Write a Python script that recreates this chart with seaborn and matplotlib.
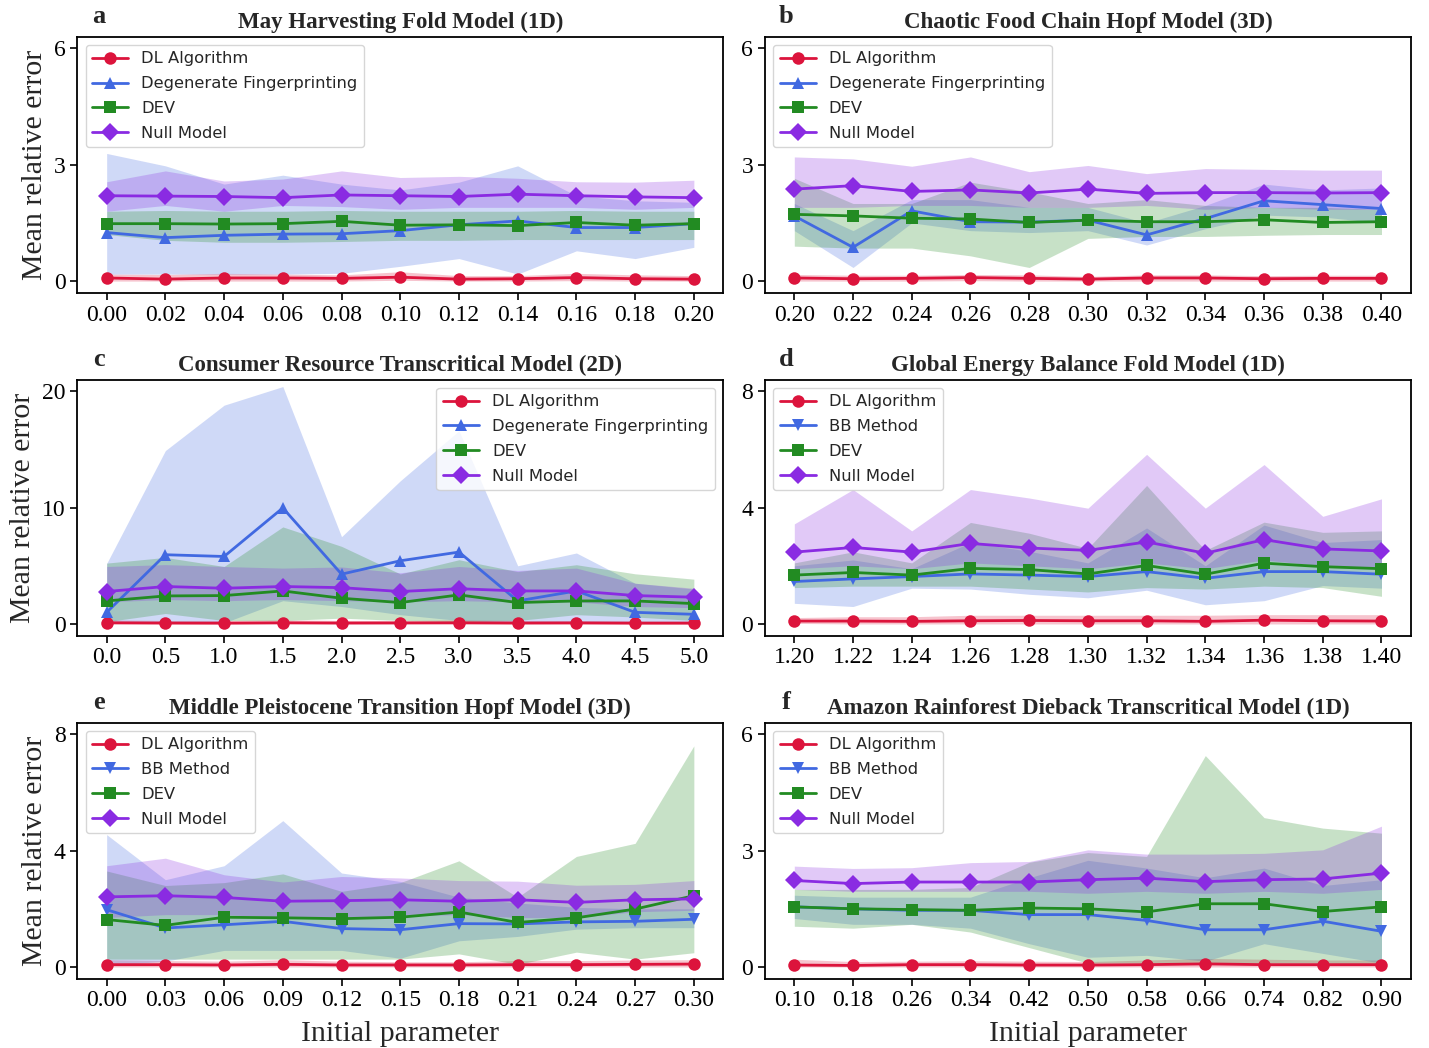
import numpy as np
import pandas as pd
import matplotlib
matplotlib.use("Agg")
import matplotlib.pyplot as plt
import seaborn as sns

# ---- data ----
a_x = [0.00, 0.02, 0.04, 0.06, 0.08, 0.10, 0.12, 0.14, 0.16, 0.18, 0.20]
a_dl = [0.08, 0.05, 0.08, 0.08, 0.07, 0.10, 0.05, 0.06, 0.09, 0.06, 0.05]
a_dl_lo = [0.0, 0.0, 0.0, 0.0, 0.0, 0.02, 0.0, 0.0, 0.01, 0.0, 0.0]
a_dl_hi = [0.18, 0.17, 0.20, 0.18, 0.16, 0.24, 0.14, 0.14, 0.20, 0.16, 0.14]
a_df = [1.25, 1.12, 1.18, 1.21, 1.22, 1.30, 1.45, 1.55, 1.38, 1.38, 1.48]
a_df_lo = [0.18, 0.18, 0.18, 0.18, 0.20, 0.38, 0.58, 0.18, 0.78, 0.58, 0.87]
a_df_hi = [3.29, 2.97, 2.50, 2.73, 2.50, 2.35, 2.55, 2.97, 2.20, 2.07, 2.03]
a_dev = [1.48, 1.48, 1.47, 1.48, 1.54, 1.44, 1.45, 1.43, 1.51, 1.44, 1.48]
a_dev_lo = [1.20, 1.05, 1.00, 1.00, 1.02, 1.05, 1.05, 1.07, 1.07, 1.07, 1.07]
a_dev_hi = [1.80, 1.82, 1.80, 1.80, 1.82, 1.80, 1.80, 1.80, 1.82, 1.80, 1.80]
a_null = [2.20, 2.19, 2.18, 2.15, 2.22, 2.20, 2.18, 2.24, 2.20, 2.17, 2.15]
a_null_lo = [1.80, 1.95, 1.80, 1.95, 1.92, 1.85, 1.90, 1.90, 1.90, 1.85, 1.90]
a_null_hi = [2.56, 2.84, 2.58, 2.63, 2.84, 2.67, 2.70, 2.65, 2.56, 2.55, 2.60]

b_x = [0.20, 0.22, 0.24, 0.26, 0.28, 0.30, 0.32, 0.34, 0.36, 0.38, 0.40]
b_dl = [0.08, 0.06, 0.07, 0.09, 0.07, 0.05, 0.08, 0.08, 0.06, 0.07, 0.07]
b_dl_lo = [0.0, 0.0, 0.0, 0.01, 0.0, 0.0, 0.0, 0.0, 0.0, 0.0, 0.0]
b_dl_hi = [0.17, 0.15, 0.15, 0.17, 0.16, 0.12, 0.16, 0.16, 0.14, 0.15, 0.15]
b_df = [1.68, 0.87, 1.81, 1.53, 1.52, 1.57, 1.19, 1.61, 2.07, 1.97, 1.87]
b_df_lo = [1.30, 0.35, 1.50, 1.30, 1.25, 1.30, 0.93, 1.35, 1.70, 1.65, 1.50]
b_df_hi = [2.00, 1.30, 2.10, 2.10, 1.90, 1.90, 1.50, 1.95, 2.50, 2.35, 2.40]
b_dev = [1.72, 1.68, 1.62, 1.60, 1.51, 1.57, 1.53, 1.53, 1.58, 1.51, 1.53]
b_dev_lo = [0.90, 0.85, 0.85, 0.65, 0.35, 1.10, 1.15, 1.15, 1.18, 1.20, 1.20]
b_dev_hi = [2.65, 2.00, 2.00, 2.55, 2.30, 2.00, 2.10, 1.95, 1.90, 1.90, 1.85]
b_null = [2.37, 2.46, 2.31, 2.35, 2.27, 2.37, 2.26, 2.28, 2.28, 2.27, 2.28]
b_null_lo = [1.90, 1.90, 1.95, 1.95, 1.90, 1.90, 1.95, 1.85, 1.90, 1.85, 1.85]
b_null_hi = [3.20, 3.15, 2.96, 3.20, 2.82, 2.98, 2.77, 2.90, 2.88, 2.86, 2.86]

c_x = [0.0, 0.5, 1.0, 1.5, 2.0, 2.5, 3.0, 3.5, 4.0, 4.5, 5.0]
c_dl = [0.10, 0.08, 0.07, 0.10, 0.08, 0.09, 0.10, 0.08, 0.09, 0.07, 0.07]
c_dl_lo = [0.0, 0.0, 0.0, 0.0, 0.0, 0.0, 0.0, 0.0, 0.0, 0.0, 0.0]
c_dl_hi = [0.35, 0.30, 0.30, 0.35, 0.30, 0.30, 0.35, 0.30, 0.30, 0.28, 0.28]
c_df = [1.00, 5.95, 5.80, 9.97, 4.28, 5.43, 6.18, 1.98, 2.84, 1.00, 0.83]
c_df_lo = [0.10, 0.20, 0.10, 2.00, 1.50, 0.80, 0.30, 0.10, 0.20, 0.10, 0.10]
c_df_hi = [5.20, 14.9, 18.8, 20.4, 7.50, 12.3, 16.6, 5.00, 6.10, 3.50, 3.00]
c_dev = [1.98, 2.41, 2.44, 2.84, 2.21, 1.84, 2.50, 1.84, 1.98, 1.98, 1.75]
c_dev_lo = [0.20, 0.90, 0.30, 0.30, 0.50, 0.30, 0.20, 0.30, 0.80, 0.60, 0.30]
c_dev_hi = [5.23, 5.72, 4.94, 8.34, 6.67, 4.30, 5.52, 4.50, 5.09, 4.31, 3.85]
c_null = [2.79, 3.22, 3.07, 3.22, 3.12, 2.79, 3.03, 2.84, 2.84, 2.44, 2.30]
c_null_lo = [1.90, 2.10, 2.00, 2.10, 2.00, 1.90, 2.00, 1.90, 1.90, 1.50, 1.40]
c_null_hi = [4.94, 5.10, 4.94, 4.80, 4.90, 4.40, 4.94, 4.60, 4.80, 3.50, 3.07]

d_x = [1.20, 1.22, 1.24, 1.26, 1.28, 1.30, 1.32, 1.34, 1.36, 1.38, 1.40]
d_dl = [0.10, 0.10, 0.09, 0.11, 0.12, 0.11, 0.11, 0.09, 0.13, 0.11, 0.10]
d_dl_lo = [0.02, 0.0, 0.0, 0.0, 0.0, 0.0, 0.0, 0.0, 0.0, 0.0, 0.0]
d_dl_hi = [0.22, 0.25, 0.25, 0.30, 0.30, 0.30, 0.30, 0.30, 0.32, 0.32, 0.32]
d_bb = [1.46, 1.55, 1.63, 1.72, 1.68, 1.63, 1.80, 1.57, 1.80, 1.80, 1.71]
d_bb_lo = [0.71, 0.60, 1.23, 1.20, 1.02, 0.90, 1.16, 0.66, 0.80, 1.32, 1.23]
d_bb_hi = [2.00, 2.20, 1.90, 2.80, 2.50, 2.10, 3.30, 2.00, 3.40, 2.80, 2.90]
d_dev = [1.68, 1.77, 1.68, 1.91, 1.87, 1.72, 2.01, 1.71, 2.09, 1.97, 1.90]
d_dev_lo = [1.25, 1.30, 1.30, 1.30, 1.20, 1.10, 1.25, 1.20, 1.30, 1.25, 0.95]
d_dev_hi = [2.10, 2.48, 2.10, 3.49, 3.12, 2.60, 4.76, 2.53, 3.50, 3.15, 3.20]
d_null = [2.47, 2.63, 2.47, 2.77, 2.61, 2.53, 2.82, 2.43, 2.90, 2.58, 2.51]
d_null_lo = [1.90, 2.00, 1.90, 2.10, 2.00, 1.90, 2.10, 1.90, 2.20, 2.00, 1.95]
d_null_hi = [3.44, 4.62, 3.20, 4.62, 4.33, 3.98, 5.83, 3.98, 5.48, 3.70, 4.30]

e_x = [0.00, 0.03, 0.06, 0.09, 0.12, 0.15, 0.18, 0.21, 0.24, 0.27, 0.30]
e_dl = [0.08, 0.08, 0.07, 0.09, 0.07, 0.07, 0.07, 0.08, 0.08, 0.09, 0.10]
e_dl_lo = [0.0, 0.0, 0.0, 0.0, 0.0, 0.0, 0.0, 0.0, 0.0, 0.0, 0.0]
e_dl_hi = [0.25, 0.22, 0.20, 0.25, 0.20, 0.18, 0.18, 0.22, 0.22, 0.24, 0.25]
e_bb = [1.97, 1.34, 1.45, 1.57, 1.32, 1.28, 1.49, 1.48, 1.55, 1.57, 1.64]
e_bb_lo = [0.05, 0.20, 0.57, 0.57, 0.57, 0.30, 0.90, 1.05, 1.30, 1.35, 1.35]
e_bb_hi = [4.55, 3.00, 3.48, 5.03, 3.23, 2.94, 2.40, 2.20, 2.05, 2.00, 2.00]
e_dev = [1.63, 1.43, 1.71, 1.69, 1.66, 1.71, 1.89, 1.53, 1.69, 1.99, 2.45]
e_dev_lo = [0.27, 0.27, 0.27, 0.27, 0.27, 0.27, 0.45, 0.09, 0.51, 0.27, 0.49]
e_dev_hi = [3.30, 2.80, 2.90, 3.20, 2.60, 2.90, 3.65, 2.40, 3.80, 4.25, 7.60]
e_null = [2.41, 2.45, 2.39, 2.26, 2.28, 2.31, 2.26, 2.31, 2.22, 2.31, 2.34]
e_null_lo = [1.70, 1.80, 1.80, 1.70, 1.70, 1.75, 1.80, 1.70, 1.70, 1.90, 1.95]
e_null_hi = [3.48, 3.74, 3.17, 2.92, 3.11, 3.06, 2.97, 2.95, 2.81, 2.84, 2.97]

f_x = [0.10, 0.18, 0.26, 0.34, 0.42, 0.50, 0.58, 0.66, 0.74, 0.82, 0.90]
f_dl = [0.05, 0.04, 0.06, 0.06, 0.05, 0.05, 0.06, 0.08, 0.06, 0.06, 0.06]
f_dl_lo = [0.0, 0.0, 0.0, 0.0, 0.0, 0.0, 0.0, 0.0, 0.0, 0.0, 0.0]
f_dl_hi = [0.20, 0.14, 0.15, 0.16, 0.15, 0.14, 0.18, 0.22, 0.20, 0.18, 0.18]
f_bb = [1.55, 1.50, 1.46, 1.46, 1.35, 1.35, 1.20, 0.96, 0.96, 1.18, 0.92]
f_bb_lo = [1.25, 1.10, 1.10, 1.00, 0.60, 0.25, 0.30, 0.15, 0.60, 0.35, 0.10]
f_bb_hi = [1.85, 1.80, 1.80, 1.80, 2.30, 2.75, 2.55, 2.30, 2.55, 2.10, 2.25]
f_dev = [1.55, 1.50, 1.48, 1.46, 1.52, 1.50, 1.42, 1.63, 1.63, 1.43, 1.55]
f_dev_lo = [1.05, 1.00, 1.10, 0.90, 0.50, 0.10, 0.10, 0.10, 0.10, 0.10, 0.05]
f_dev_hi = [2.00, 2.00, 2.00, 2.05, 2.70, 2.95, 2.85, 5.45, 3.85, 3.58, 3.45]
f_null = [2.23, 2.15, 2.19, 2.19, 2.19, 2.25, 2.29, 2.20, 2.25, 2.27, 2.42]
f_null_lo = [2.00, 1.95, 1.95, 1.95, 1.95, 1.90, 1.95, 1.90, 1.95, 1.90, 2.00]
f_null_hi = [2.60, 2.54, 2.56, 2.69, 2.72, 3.02, 2.91, 2.91, 2.93, 3.02, 3.63]

titles = ["May Harvesting Fold Model (1D)", "Chaotic Food Chain Hopf Model (3D)",
          "Consumer Resource Transcritical Model (2D)", "Global Energy Balance Fold Model (1D)",
          "Middle Pleistocene Transition Hopf Model (3D)", "Amazon Rainforest Dieback Transcritical Model (1D)"]
letters = ["a", "b", "c", "d", "e", "f"]
ymax = [6, 6, 20, 8, 8, 6]

colors = {"DL": "#DC143C", "DF": "#4169E1", "BB": "#4169E1", "DEV": "#228B22", "Null": "#8A2BE2"}
markers = {"DL": "o", "DF": "^", "BB": "v", "DEV": "s", "Null": "D"}
names = {"DL": "DL Algorithm", "DF": "Degenerate Fingerprinting", "BB": "BB Method",
         "DEV": "DEV", "Null": "Null Model"}

panels = [
    (a_x, [("DL", a_dl, a_dl_lo, a_dl_hi), ("DF", a_df, a_df_lo, a_df_hi),
           ("DEV", a_dev, a_dev_lo, a_dev_hi), ("Null", a_null, a_null_lo, a_null_hi)], "%.2f"),
    (b_x, [("DL", b_dl, b_dl_lo, b_dl_hi), ("DF", b_df, b_df_lo, b_df_hi),
           ("DEV", b_dev, b_dev_lo, b_dev_hi), ("Null", b_null, b_null_lo, b_null_hi)], "%.2f"),
    (c_x, [("DL", c_dl, c_dl_lo, c_dl_hi), ("DF", c_df, c_df_lo, c_df_hi),
           ("DEV", c_dev, c_dev_lo, c_dev_hi), ("Null", c_null, c_null_lo, c_null_hi)], "%.1f"),
    (d_x, [("DL", d_dl, d_dl_lo, d_dl_hi), ("BB", d_bb, d_bb_lo, d_bb_hi),
           ("DEV", d_dev, d_dev_lo, d_dev_hi), ("Null", d_null, d_null_lo, d_null_hi)], "%.2f"),
    (e_x, [("DL", e_dl, e_dl_lo, e_dl_hi), ("BB", e_bb, e_bb_lo, e_bb_hi),
           ("DEV", e_dev, e_dev_lo, e_dev_hi), ("Null", e_null, e_null_lo, e_null_hi)], "%.2f"),
    (f_x, [("DL", f_dl, f_dl_lo, f_dl_hi), ("BB", f_bb, f_bb_lo, f_bb_hi),
           ("DEV", f_dev, f_dev_lo, f_dev_hi), ("Null", f_null, f_null_lo, f_null_hi)], "%.2f"),
]

sns.set_style("ticks")
plt.rcParams["font.family"] = ["Liberation Serif", "DejaVu Serif"]
plt.rcParams["axes.edgecolor"] = "black"
plt.rcParams["axes.linewidth"] = 1.3

fig = plt.figure(figsize=(14.29, 10.48), dpi=100)
lefts = [0.0541, 0.5353]
bottoms = [0.7207, 0.3935, 0.0662]
w, h = 0.452, 0.2443

for i, (xs, series, fmt) in enumerate(panels):
    ax = fig.add_axes([lefts[i % 2], bottoms[i // 2], w, h])
    for key, m, lo, hi in series:
        ax.fill_between(xs, lo, hi, color=colors[key], alpha=0.25, linewidth=0)
        sns.lineplot(x=xs, y=m, ax=ax, color=colors[key], marker=markers[key],
                     markersize=9, markeredgewidth=0, linewidth=2, label=names[key])
    ym = ymax[i]
    ax.set_ylim(-0.05 * ym, 1.05 * ym)
    ax.set_yticks([0, ym / 2, ym])
    ax.set_yticklabels([str(int(v)) for v in [0, ym / 2, ym]])
    ax.set_xticks(xs)
    ax.set_xticklabels([fmt % v for v in xs])
    ax.tick_params(labelsize=17, length=5, width=1.2, colors="black")
    ax.set_title(titles[i], fontsize=16.5, fontweight="bold", pad=6)
    ax.text(0.033, 1.078, letters[i], transform=ax.transAxes, fontsize=19,
            fontweight="bold", ha="center", va="center")
    if i % 2 == 0:
        ax.set_ylabel("Mean relative error", fontsize=21.5, labelpad=4)
    if i >= 4:
        ax.set_xlabel("Initial parameter", fontsize=21.5, labelpad=7)
    leg_loc = "upper right" if i == 2 else "upper left"
    ax.legend(loc=leg_loc, prop={"family": "DejaVu Sans", "size": 11.8},
              handlelength=2.2, labelspacing=0.6, framealpha=0.8)
    for s in ax.spines.values():
        s.set_visible(True)

fig.savefig("out.png", dpi=100)
